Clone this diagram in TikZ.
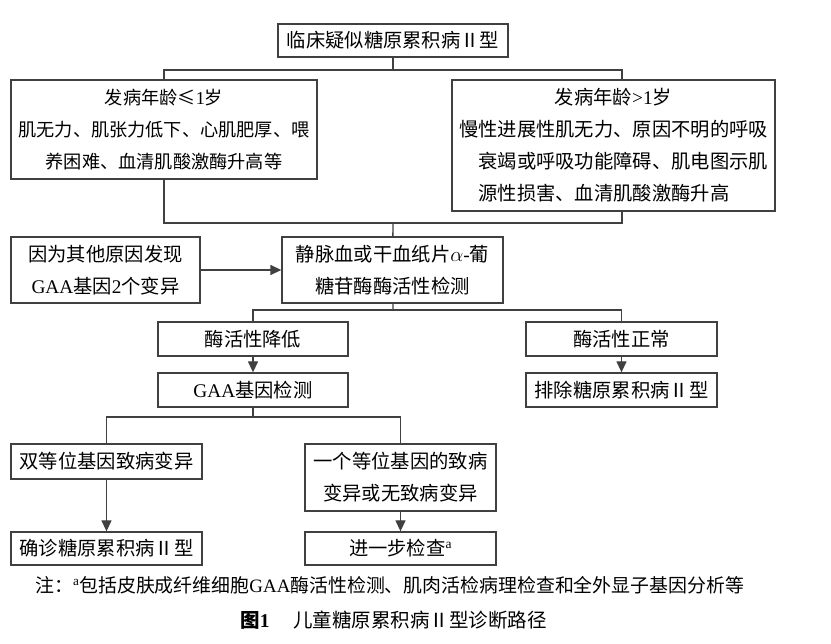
\documentclass[tikz,border=0pt]{standalone}
\usepackage{fontspec}
\setmainfont{Liberation Serif}
\newfontfamily\cjk{Noto Sans CJK SC}
\usetikzlibrary{arrows.meta}
\newcommand\lat[1]{{\rmfamily #1}}

\tikzset{
  box/.style={draw=black!75,line width=1.3pt,inner sep=0pt,align=center,
    font=\cjk\fontsize{19.3}{32}\selectfont},
  wire/.style={draw=black!75,line width=1.3pt},
  arr/.style={wire,-{Triangle[length=11pt,width=10pt]}}
}

\begin{document}
\begin{tikzpicture}[x=1pt,y=-1pt]
\useasboundingbox (0,0) rectangle (831,644);
\node[box,minimum width=230,minimum height=33] at (393,40.5) (top) {临床疑似糖原累积病Ⅱ型};
\node[box,minimum width=306,minimum height=99,font=\cjk\fontsize{18.2}{32}\selectfont] at (164,129.5) (young) {发病年龄≤\lat{1}岁\\肌无力、肌张力低下、心肌肥厚、喂\\养困难、血清肌酸激酶升高等};
\node[box,minimum width=323,minimum height=131,align=left] at (613.5,145.5) (old) {\makebox[16em]{发病年龄\lat{>1}岁}\\慢性进展性肌无力、原因不明的呼吸\\\hspace*{1em}衰竭或呼吸功能障碍、肌电图示肌\\\hspace*{1em}源性损害、血清肌酸激酶升高};
\node[box,minimum width=189,minimum height=66] at (105.5,270) (other) {因为其他原因发现\\\lat{GAA}基因\lat{2}个变异};
\node[box,minimum width=221,minimum height=66] at (392.5,270) (assay) {静脉血或干血纸片\lat{$\alpha$-}葡\\糖苷酶酶活性检测};
\node[box,minimum width=190,minimum height=34] at (253,339) (low) {酶活性降低};
\node[box,minimum width=190,minimum height=34] at (253,390) (gene) {\lat{GAA}基因检测};
\node[box,minimum width=191,minimum height=34] at (621.5,339) (normal) {酶活性正常};
\node[box,minimum width=191,minimum height=34] at (621.5,390) (exclude) {排除糖原累积病Ⅱ型};
\node[box,minimum width=191,minimum height=35] at (106.5,461.5) (biallelic) {双等位基因致病变异};
\node[box,minimum width=191,minimum height=33] at (106.5,548.5) (confirm) {确诊糖原累积病Ⅱ型};
\node[box,minimum width=191,minimum height=67] at (400.5,477.5) (mono) {一个等位基因的致病\\变异或无致病变异};
\node[box,minimum width=191,minimum height=33] at (400.5,548.5) (further) {进一步检查\lat{\textsuperscript{a}}};

\coordinate (split1) at (393,70);
\coordinate (merge) at (393,223);
\coordinate (split2) at (393,310);
\coordinate (split3) at (253,417);

\draw[wire] (top) -- (split1);
\draw[wire] (young.north) |- (split1) -| ([xshift=8.5pt]old.north);
\draw[wire] (young.south) |- (merge) -| ([xshift=8.5pt]old.south);
\draw[wire] (merge) -- (assay);
\draw[arr] (other) -- (assay);
\draw[wire] (assay) -- (split2);
\draw[wire] (low.north) |- (split2) -| (normal.north);
\draw[arr] (low) -- (gene);
\draw[arr] (normal) -- (exclude);
\draw[wire] (gene) -- (split3);
\draw[wire] (biallelic.north) |- (split3) -| (mono.north);
\draw[arr] (biallelic) -- (confirm);
\draw[arr] (mono) -- (further);

\node[anchor=west,font=\cjk\fontsize{18.9}{22}\selectfont,inner sep=0pt] at (35,585) (note) {注：\lat{\textsuperscript{a}}包括皮肤成纤维细胞\lat{GAA}酶活性检测、肌肉活检病理检查和全外显子基因分析等};
\node[font=\cjk\fontsize{19.5}{22}\selectfont,inner sep=0pt] at (393.5,620) (caption) {{\bfseries 图\lat{1}}\hspace{1.2em}儿童糖原累积病Ⅱ型诊断路径};
\end{tikzpicture}
\end{document}
